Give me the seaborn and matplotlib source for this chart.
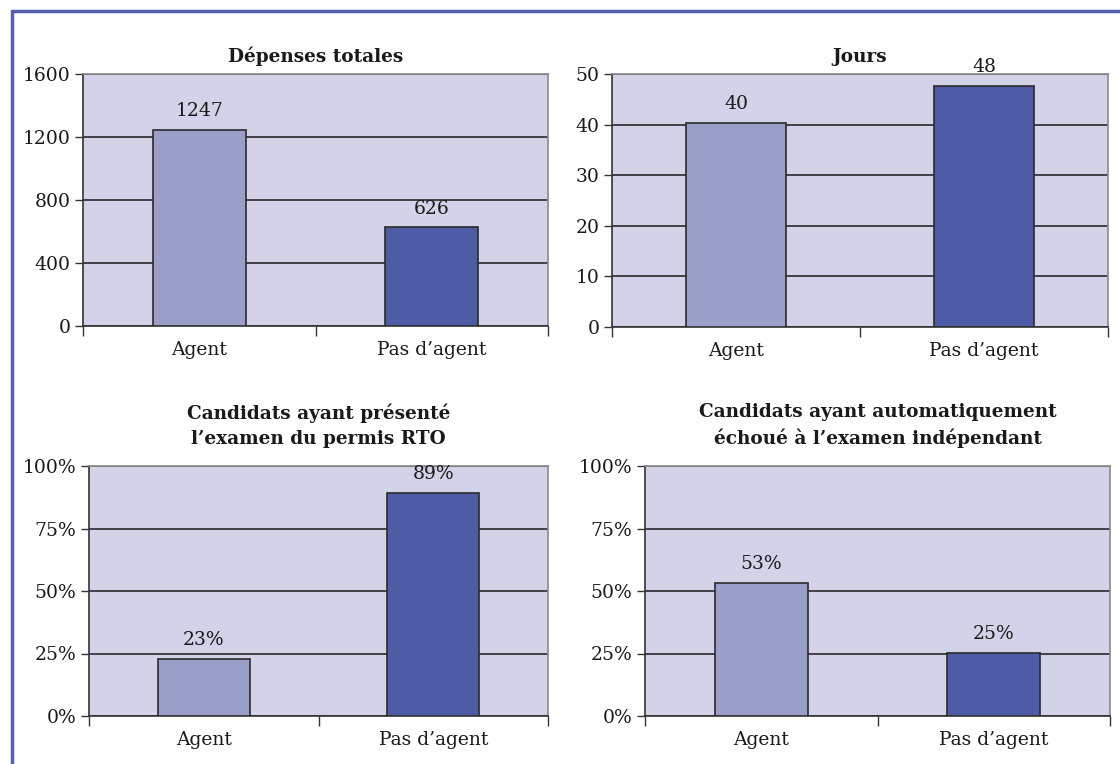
import matplotlib
matplotlib.use("Agg")
import matplotlib.pyplot as plt
import matplotlib.ticker as mticker
from matplotlib.lines import Line2D
import seaborn as sns
import pandas as pd

categories = ["Agent", "Pas d\u2019agent"]
depenses = [1247, 626]
jours = [40.3, 47.6]
rto = [0.228, 0.894]
echoue = [0.533, 0.253]

titles = ["Dépenses totales", "Jours",
          "Candidats ayant présenté\nl\u2019examen du permis RTO",
          "Candidats ayant automatiquement\néchoué à l\u2019examen indépendant"]

sns.set_theme(style="white")
plt.rcParams['font.family'] = ['DejaVu Serif', 'Liberation Serif']

BG = "#D2D2E8"
palette = {"Agent": "#9C9ECA", "Pas d\u2019agent": "#4E5BA5"}

fig = plt.figure(figsize=(11.2, 7.64), dpi=100)
W, H = 1120, 764

def add_ax(l, r, t, b):
    return fig.add_axes([l / W, 1 - b / H, (r - l) / W, (b - t) / H])

axes = [add_ax(83, 548, 74, 326), add_ax(612, 1108, 74, 327),
        add_ax(89, 548, 466, 716), add_ax(645, 1110, 466, 716)]

datasets = [depenses, jours, rto, echoue]
ylims = [(0, 1600), (0, 50), (0, 1), (0, 1)]
yticks = [[0, 400, 800, 1200, 1600], [0, 10, 20, 30, 40, 50],
          [0, .25, .5, .75, 1], [0, .25, .5, .75, 1]]
fmts = ["{:.0f}", "{:.0f}", "{:.0%}", "{:.0%}"]
title_pads = [9, 9, 16, 16]

FS = 13.5
for i, ax in enumerate(axes):
    df = pd.DataFrame({"cat": categories, "val": datasets[i]})
    ax.set_facecolor(BG)
    ax.set_axisbelow(True)
    sns.barplot(data=df, x="cat", y="val", hue="cat", palette=palette,
                saturation=1, width=0.40, edgecolor="#2a2a2a", linewidth=1.2,
                legend=False, ax=ax, zorder=3)
    ax.set_ylim(*ylims[i])
    ax.set_xlim(-0.5, 1.5)
    ax.set_yticks(yticks[i])
    if i >= 2:
        ax.yaxis.set_major_formatter(mticker.PercentFormatter(1.0, decimals=0))
    ax.yaxis.grid(True, color="#1a1a1a", linewidth=1.1, zorder=1)
    ax.xaxis.grid(False)
    ax.set_xlabel("")
    ax.set_ylabel("")
    ax.tick_params(axis="y", which="major", direction="out", length=6, width=1,
                   color="#333333", labelsize=FS, labelcolor="#1a1a1a", pad=3, left=True)
    ax.tick_params(axis="x", which="major", length=0, labelsize=FS,
                   labelcolor="#1a1a1a", pad=11)
    ax.set_xticks([-0.5, 0.5, 1.5], minor=True)
    ax.tick_params(axis="x", which="minor", direction="out", length=7, width=1,
                   color="#333333", bottom=True)
    for s in ["left", "bottom"]:
        ax.spines[s].set_color("#333333")
        ax.spines[s].set_linewidth(1.2)
    for s in ["top", "right"]:
        ax.spines[s].set_color("#8a8a8a")
        ax.spines[s].set_linewidth(1.2)
    for x, v in enumerate(datasets[i]):
        ax.annotate(fmts[i].format(v), (x, v), xytext=(0, 7),
                    textcoords="offset points", ha="center", va="bottom",
                    fontsize=FS, color="#1a1a1a", zorder=5, annotation_clip=False)
    ax.set_title(titles[i], fontsize=13.3, fontweight="bold", color="#1a1a1a",
                 pad=title_pads[i], linespacing=1.45)

# blue frame
fig.add_artist(Line2D([12 / W, 1], [1 - 11 / H, 1 - 11 / H], color="#5560AE",
                      linewidth=2.5, transform=fig.transFigure))
fig.add_artist(Line2D([12 / W, 12 / W], [0, 1 - 11 / H], color="#5560AE",
                      linewidth=2.5, transform=fig.transFigure))

fig.savefig("out.png", dpi=100, facecolor="white")
